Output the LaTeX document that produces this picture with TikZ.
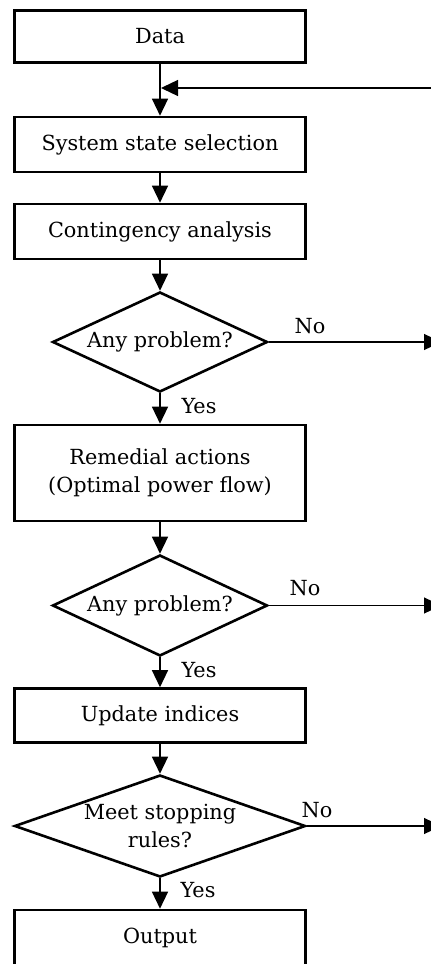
\documentclass[tikz,border=0pt]{standalone}
\usepackage{fontspec}
\setmainfont{DejaVu Serif}
\usetikzlibrary{arrows.meta,shapes.geometric}
\begin{document}
\begin{tikzpicture}[x=1pt,y=-1pt,
  txt/.style={font=\fontsize{20.8}{27.5}\selectfont},
  box/.style={txt,draw,line width=2.6pt,minimum width=291pt,inner sep=0pt,align=center},
  dia/.style={txt,diamond,draw,line width=2.6pt,inner sep=0pt,align=center},
  conn/.style={line width=1.3pt,-{Triangle[length=17pt,width=16pt]}},
  lbl/.style={txt,anchor=base,inner sep=0pt}]
\useasboundingbox (0,0) rectangle (431,964);
\clip (0,0) rectangle (431,964);
\node[box,minimum height=52pt] (data) at (160,36.5) {Data};
\node[box,minimum height=55pt] (sys) at (160,144.5) {System state selection};
\node[box,minimum height=55pt] (cont) at (160,231.5) {Contingency analysis};
\node[dia,minimum width=215pt,minimum height=100pt,shape aspect=2.15] (d1) at (160,342) {Any problem?};
\node[box,minimum height=96pt] (rem) at (160,473) {Remedial actions\\(Optimal power flow)};
\node[dia,minimum width=215pt,minimum height=101pt,shape aspect=2.15] (d2) at (160,605.5) {Any problem?};
\node[box,minimum height=54pt] (upd) at (160,715.5) {Update indices};
\node[dia,minimum width=291pt,minimum height=102pt,shape aspect=2.85] (d3) at (160,826) {Meet stopping\\rules?};
\node[box,minimum height=56pt] (out) at (160,938) {Output};
\draw[conn] (data) -- (sys);
\draw[conn] (sys) -- (cont);
\draw[conn] (cont) -- (d1);
\draw[conn] (d1) -- (rem);
\draw[conn] (rem) -- (d2);
\draw[conn] (d2) -- (upd);
\draw[conn] (upd) -- (d3);
\draw[conn] (d3) -- (out);
\coordinate (fbE) at (431,88);
\coordinate (fbT) at (161,88);
\draw[conn] (fbE) -- (fbT);
\coordinate (n1) at (441,342);
\coordinate (n2) at (441,605.5);
\coordinate (n3) at (441,826);
\draw[conn] (d1.east) -- (n1);
\draw[conn] (d2.east) -- (n2);
\draw[conn] (d3.east) -- (n3);
\node[lbl] (no1) at (310,333) {No};
\node[lbl] (yes1) at (199,413) {Yes};
\node[lbl] (no2) at (305,595) {No};
\node[lbl] (yes2) at (199,677) {Yes};
\node[lbl] (no3) at (317,817) {No};
\node[lbl] (yes3) at (198,897) {Yes};
\end{tikzpicture}
\end{document}
